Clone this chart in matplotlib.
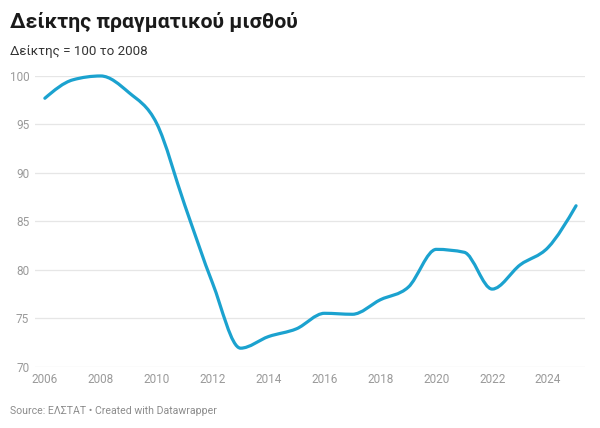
import matplotlib
matplotlib.use("Agg")
import matplotlib.pyplot as plt
from matplotlib.path import Path
from matplotlib.patches import PathPatch
import numpy as np

plt.rcParams['font.family'] = ['Roboto', 'DejaVu Sans']

# data
years = [2006, 2007, 2008, 2009, 2010, 2011, 2012, 2013, 2014, 2015,
         2016, 2017, 2018, 2019, 2020, 2021, 2022, 2023, 2024, 2025]
wage_index = [97.7, 99.6, 100.0, 98.3, 95.1, 86.7, 78.6, 71.9, 73.1, 73.9,
              75.5, 75.4, 76.9, 78.2, 82.1, 81.8, 78.0, 80.5, 82.3, 86.6]
y_ticks = [70, 75, 80, 85, 90, 95, 100]
x_ticks = [2006, 2008, 2010, 2012, 2014, 2016, 2018, 2020, 2022, 2024]

title = "Δείκτης πραγματικού μισθού"
subtitle = "Δείκτης = 100 το 2008"
source = "Source: ΕΛΣΤΑΤ • Created with Datawrapper"


def monotone_path(x, y):
    # monotone-x cubic, same idea as d3.curveMonotoneX
    x = np.asarray(x, float)
    y = np.asarray(y, float)
    n = len(x)
    h = np.diff(x)
    s = np.diff(y) / h
    m = np.zeros(n)
    for i in range(1, n - 1):
        p = (s[i - 1] * h[i] + s[i] * h[i - 1]) / (h[i - 1] + h[i])
        m[i] = (np.sign(s[i - 1]) + np.sign(s[i])) * min(abs(s[i - 1]), abs(s[i]), 0.5 * abs(p))
    m[0] = (3 * s[0] - m[1]) / 2
    m[-1] = (3 * s[-1] - m[-2]) / 2
    verts = [(x[0], y[0])]
    codes = [Path.MOVETO]
    for i in range(n - 1):
        d = h[i] / 3
        verts += [(x[i] + d, y[i] + m[i] * d),
                  (x[i + 1] - d, y[i + 1] - m[i + 1] * d),
                  (x[i + 1], y[i + 1])]
        codes += [Path.CURVE4] * 3
    return Path(verts, codes)


fig = plt.figure(figsize=(6, 4.28), dpi=100)
ax = fig.add_axes([0.058, 0.1435, 0.917, 0.679])

ax.add_patch(PathPatch(monotone_path(years, wage_index), facecolor='none',
                       edgecolor='#1ba2cf', linewidth=2.3, capstyle='round',
                       joinstyle='round', clip_on=False, zorder=3))

ax.set_xlim(2005.64, 2025.32)
ax.set_ylim(70, 100)
ax.set_yticks(y_ticks)
ax.set_xticks(x_ticks)
ax.grid(axis='y', color='#e6e6e6', linewidth=0.9)
ax.grid(axis='x', visible=False)
for sp in ax.spines.values():
    sp.set_visible(False)
ax.tick_params(axis='both', length=0, labelsize=8.5, labelcolor='#9a9a9a')
ax.tick_params(axis='y', pad=4)
ax.tick_params(axis='x', pad=4.5)
ax.set_axisbelow(True)

fig.text(10 / 600, 1 - 22 / 428, title, fontsize=15.3, fontweight='bold',
         color='#1a1a1a', va='center', ha='left')
fig.text(10 / 600, 1 - 52 / 428, subtitle, fontsize=9.6, color='#333333',
         va='center', ha='left')
fig.text(10 / 600, 1 - 411.5 / 428, source, fontsize=7.6, color='#8c8c8c',
         va='center', ha='left')

fig.savefig("out.png", dpi=100, facecolor='white')
